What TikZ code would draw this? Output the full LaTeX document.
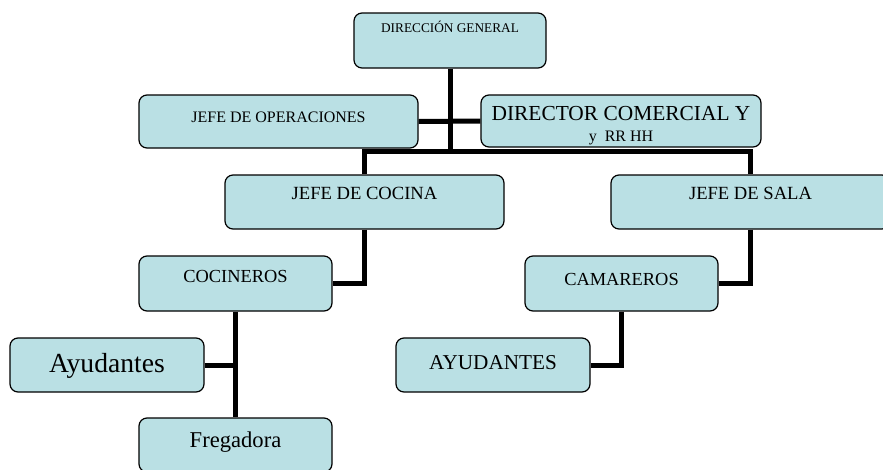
\documentclass[tikz,border=0pt]{standalone}
\usepackage{fontspec}
\setmainfont{Liberation Serif}
\usepackage{tikz}
\definecolor{celeste}{RGB}{186,224,228}
\tikzset{every picture/.style={line width=0.75pt}}

\begin{document}
\begin{tikzpicture}[x=1pt,y=-1pt,
        caja/.style n args={3}{draw, line width=1.2pt, rounded corners=8pt, fill=celeste, inner sep=0pt, minimum width=#1, text height=#2, text depth=#3},
        linea/.style={line width=5pt}]
        \useasboundingbox (0,0) rectangle (883,469);
        \clip (0,0) rectangle (883,469);

        \node[caja={192pt}{19.5pt}{35.5pt}, font=\fontsize{13.3}{15}\selectfont] (dg) at (450,40.5) {DIRECCIÓN GENERAL};
        \node[caja={279pt}{27.3pt}{25.7pt}, font=\fontsize{16}{18}\selectfont] (ops) at (278.5,121.5) {JEFE DE OPERACIONES};
        \node[draw, line width=1.2pt, rounded corners=8pt, fill=celeste, inner sep=0pt, minimum width=280pt, minimum height=52pt, align=center, font=\fontsize{21.4}{21}\selectfont] (dir) at (621,121)
            {\rule{0pt}{22.8pt}DIRECTOR COMERCIAL Y\\{\fontsize{16}{21}\selectfont y\ \ RR HH}};
        \node[caja={279pt}{24.2pt}{29.8pt}, font=\fontsize{18.6}{20}\selectfont] (jcoc) at (364.5,202) {JEFE DE COCINA};
        \node[caja={279pt}{24.2pt}{29.8pt}, font=\fontsize{18.6}{20}\selectfont] (jsala) at (750.5,202) {JEFE DE SALA};
        \node[caja={193pt}{26.1pt}{28.9pt}, font=\fontsize{18.4}{20}\selectfont] (coc) at (235.5,283.5) {COCINEROS};
        \node[caja={193pt}{29.1pt}{25.9pt}, font=\fontsize{18.4}{20}\selectfont] (cam) at (621.5,283.5) {CAMAREROS};
        \node[caja={194pt}{34pt}{20pt}, font=\fontsize{27.6}{30}\selectfont] (ayu) at (107,365) {Ayudantes};
        \node[caja={194pt}{31pt}{23pt}, font=\fontsize{21.2}{23}\selectfont] (ayus) at (493,365) {AYUDANTES};
        \node[caja={193pt}{29pt}{25pt}, font=\fontsize{22.6}{24}\selectfont] (freg) at (235.5,445) {Fregadora};

        \coordinate (barra) at (450,151);
        \draw[linea] (dg.south) -- (barra);
        \draw[linea] (ops.east) -- (dir.west);
        \draw[linea] (jcoc.north) |- (barra) -| (jsala.north);
        \draw[linea] (jcoc.south) |- (coc.east);
        \draw[linea] (jsala.south) |- (cam.east);
        \draw[linea] (coc.south) -- (freg.north);
        \draw[linea] (ayu.east) -- (ayu.east -| coc.south);
        \draw[linea] (cam.south) |- (ayus.east);
    \end{tikzpicture}
\end{document}
